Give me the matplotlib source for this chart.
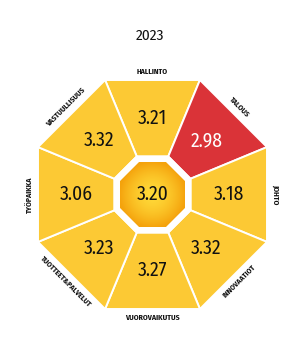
import numpy as np
import matplotlib
matplotlib.use("Agg")
import matplotlib.pyplot as plt
from matplotlib.patches import Polygon

title = "2023"
categories = ["HALLINTO", "TALOUS", "JOHTO", "INNOVAATIOT",
              "VUOROVAIKUTUS", "TUOTTEET&PALVELUT", "TYÖPAIKKA", "VASTUULLISUUS"]
values = [3.21, 2.98, 3.18, 3.32, 3.27, 3.23, 3.06, 3.32]
center_value = 3.20
seg_colors = ["#FCC934", "#DA3338", "#FCC934", "#FCC934",
              "#FCC934", "#FCC934", "#FCC934", "#FCC934"]
value_colors = ["#111111", "#FFFFFF", "#111111", "#111111",
                "#111111", "#111111", "#111111", "#111111"]

fam = ["Fira Sans Condensed", "Roboto Condensed", "DejaVu Sans"]

W, H = 300, 346
fig = plt.figure(figsize=(W / 100, H / 100), dpi=100)
ax = fig.add_axes([0, 0, 1, 1])
ax.set_xlim(0, W)
ax.set_ylim(H, 0)
ax.axis("off")

cx, cy = 152.5, 194.5
a_out, a_in, a_core = 114.5, 38.0, 32.5
k = 1 / np.cos(np.radians(22.5))


def pt(r, ang):
    return cx + r * np.cos(np.radians(ang)), cy - r * np.sin(np.radians(ang))


for i, (cat, v) in enumerate(zip(categories, values)):
    phi = 90 - 45 * i
    a1, a2 = phi + 22.5, phi - 22.5
    poly = [pt(a_out * k, a1), pt(a_out * k, a2), pt(a_in * k, a2), pt(a_in * k, a1)]
    ax.add_patch(Polygon(poly, closed=True, facecolor=seg_colors[i],
                         edgecolor="white", linewidth=1.4, joinstyle="miter"))
    tx, ty = pt((a_out + a_in) / 2, phi)
    ax.text(tx, ty, f"{v:.2f}", ha="center", va="center", fontsize=14,
            color=value_colors[i], family=fam)
    lx, ly = pt(a_out + 8.5, phi)
    p = ((phi + 180) % 360) - 180
    rot = p - 90 if 0 <= p <= 180 else p + 90
    if p == -180:
        rot = 90
    ax.text(lx, ly, cat, ha="center", va="center", fontsize=5.6,
            fontweight="bold", rotation=rot, rotation_mode="anchor",
            color="#111111", family=fam)

# white ring / center core
ring = [pt(a_in * k, 22.5 + 45 * j) for j in range(8)]
ax.add_patch(Polygon(ring, closed=True, facecolor="white", edgecolor="white", linewidth=1.4))
core = [pt(a_core * k, 22.5 + 45 * j) for j in range(8)]
core_patch = Polygon(core, closed=True, facecolor="none", edgecolor="none")
ax.add_patch(core_patch)
n = 200
xs = np.linspace(cx - a_core * k, cx + a_core * k, n)
ys = np.linspace(cy - a_core * k, cy + a_core * k, n)
X, Y = np.meshgrid(xs, ys)
Rr = np.sqrt((X - cx) ** 2 + (Y - cy) ** 2) / a_core
c_in = np.array([1.0, 0.85, 0.22])
c_out = np.array([0.96, 0.64, 0.05])
t = np.clip(Rr, 0, 1.1)[..., None] ** 1.6
t = np.clip(t, 0, 1)
img = c_in * (1 - t) + c_out * t
im = ax.imshow(img, extent=(xs[0], xs[-1], ys[-1], ys[0]), origin="lower",
               interpolation="bilinear", zorder=2)
im.set_clip_path(core_patch)
ax.text(cx, cy, f"{center_value:.2f}", ha="center", va="center", fontsize=14,
        color="#111111", family=fam, zorder=3)

ax.text(W / 2, 36, title, ha="center", va="center", fontsize=11,
        color="#111111", family=fam)

ax.set_xlim(0, W)
ax.set_ylim(H, 0)
fig.savefig("out.png", dpi=100)
